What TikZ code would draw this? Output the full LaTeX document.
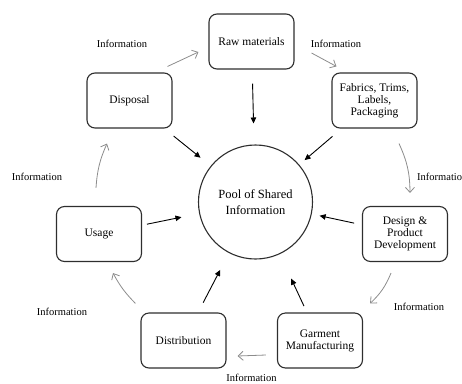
\documentclass[tikz,border=0pt]{standalone}
\usepackage{fontspec}
\setmainfont{Liberation Serif}
\usetikzlibrary{arrows.meta}
\definecolor{ink}{HTML}{2E2E2E}
\definecolor{flow}{HTML}{8C8C8C}
\begin{document}
\begin{tikzpicture}[x=1pt,y=1pt,
  stage/.style={draw=ink, line width=1.1pt, rounded corners=8pt,
    minimum width=85pt, minimum height=55pt, align=center, inner sep=2pt,
    font=\fontsize{11.5}{12}\selectfont},
  pool/.style={draw=ink, line width=1.1pt, circle, minimum size=114pt,
    align=center, inner sep=0pt, font=\fontsize{12.5}{16}\selectfont},
  info/.style={font=\fontsize{10.5}{12}\selectfont, inner sep=0pt},
  share/.style={draw=black, line width=0.9pt, -{Triangle[length=6pt,width=5.5pt]}},
  cycle/.style={draw=flow, line width=0.8pt, -{Straight Barb[length=5pt,width=9pt]}}]
\useasboundingbox (0,0) rectangle (462,-383);

% centre and the seven stages
\node[pool] (pool) at (255.5,-202) {Pool of Shared\\Information};
\node[stage] (raw) at (251.5,-41.5) {Raw materials};
\node[stage] (fab) at (374.5,-100.5) {Fabrics, Trims,\\Labels,\\Packaging};
\node[stage] (des) at (405,-234) {Design \&\\Product\\Development};
\node[stage] (gar) at (320,-340.5) {Garment\\Manufacturing};
\node[stage] (dis) at (183.5,-340.5) {Distribution};
\node[stage] (use) at (99,-234) {Usage};
\node[stage] (dsp) at (129.5,-100.5) {Disposal};

% flow labels
\node[info] (i1) at (336,-44) {Information};
\node[info, anchor=west] (i2) at (417,-177) {Informatio};
\node[info] (i3) at (419,-307) {Information};
\node[info] (i4) at (251.5,-378) {Information};
\node[info] (i5) at (62,-312) {Information};
\node[info] (i6) at (37,-177) {Information};
\node[info] (i7) at (122,-44) {Information};

% information shared with the pool
\draw[share, shorten <=14pt, shorten >=21pt] (raw) -- (pool);
\draw[share, shorten <=12pt, shorten >=7pt] (fab) -- (pool);
\draw[share, shorten <=8pt, shorten >=8pt] (des) -- (pool);
\draw[share, shorten <=7pt, shorten >=27pt] (gar) -- (pool);
\draw[share, shorten <=11pt, shorten >=19pt] (dis) -- (pool);
\draw[share, shorten <=5pt, shorten >=18pt] (use) -- (pool);
\draw[share, shorten <=12pt, shorten >=13pt] (dsp) -- (pool);

% information passed along the cycle
\draw[cycle] ([shift={(17,-11.5)}]raw.east) -- ([shift={(5,6)}]fab.north west);
\draw[cycle] ([shift={(24.5,-15)}]fab.south) to[bend left=12] ([shift={(5,13)}]des.north);
\draw[cycle] ([shift={(-14,-11)}]des.south) to[bend left=12] ([shift={(7,9)}]gar.north east);
\draw[cycle] ([shift={(-11,-14.5)}]gar.west) -- ([shift={(11,-15.5)}]dis.east);
\draw[cycle] ([shift={(-5,9)}]dis.north west) to[bend left=8] ([shift={(14,-11)}]use.south);
\draw[cycle] ([shift={(-3,18)}]use.north) to[bend left=10] ([shift={(-22.5,-15)}]dsp.south);
\draw[cycle] ([shift={(-5,6)}]dsp.north east) -- ([shift={(-10,-10.5)}]raw.west);
\end{tikzpicture}
\end{document}
